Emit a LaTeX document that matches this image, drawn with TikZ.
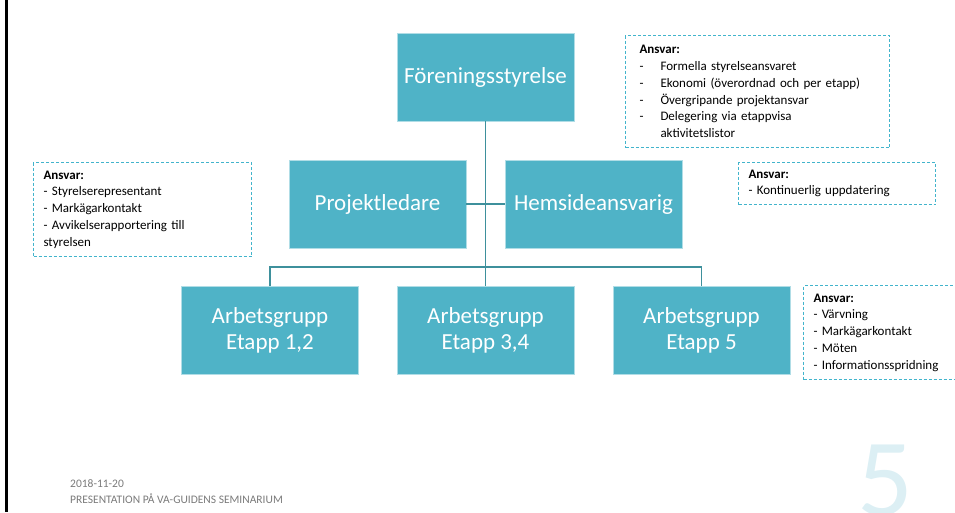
\documentclass[tikz,border=0pt]{standalone}
\usepackage{fontspec}
\setmainfont{Carlito}
\definecolor{boxfill}{HTML}{4FB3C7}
\definecolor{linecol}{HTML}{3E909C}
\definecolor{dashcol}{HTML}{42B4CC}
\definecolor{footgray}{HTML}{7A7A7A}
\definecolor{pagenum}{HTML}{DCEFF4}
\newcommand{\ansv}{\textbf{Ansvar:}}
\newcommand{\punkt}{\makebox[21pt][l]{-}}

\begin{document}
\begin{tikzpicture}[x=1pt, y=-1pt,
		orgbox/.style={draw=white!55!boxfill, line width=0.6pt, fill=boxfill, text=white,
			minimum width=177pt, minimum height=88pt, inner sep=2pt, align=center,
			font=\fontsize{23}{26}\selectfont},
		ansvarbox/.style={draw=dashcol, dash pattern=on 3pt off 2pt, line width=1pt,
			anchor=north west, align=left, inner xsep=10pt, inner ysep=0pt,
			font=\fontsize{13}{16.7}\selectfont},
		conn/.style={draw=linecol, line width=1.6pt}]

		% Frame
		\useasboundingbox (0,0) rectangle (955,512);
		\clip (0,0) rectangle (955,512);
		\fill[black] (5,0) rectangle (8,512);

		% Boxes
		\node[orgbox] (styrelse) at (485.5,77) {Föreningsstyrelse};
		\node[orgbox] (projektledare) at (377.5,204) {Projektledare};
		\node[orgbox] (hemsida) at (593.5,204) {Hemsideansvarig};
		\node[orgbox] (grupp12) at (270,330.5) {Arbetsgrupp\\Etapp 1,2};
		\node[orgbox] (grupp34) at (485.5,330.5) {Arbetsgrupp\\Etapp 3,4};
		\node[orgbox] (grupp5) at (701.5,330.5) {Arbetsgrupp\\Etapp 5};

		% Connectors
		\coordinate (bus) at (485.5,267);
		\draw[conn] (styrelse.south) -- (grupp34.north);
		\draw[conn] (projektledare.east) -- (hemsida.west);
		\draw[conn] (grupp12.north) |- (bus) -| (grupp5.north);

		% Responsibilities
		\node[ansvarbox, inner xsep=14pt, text width=236pt, minimum height=112pt] (ansvarstyrelse) at (625,35)
			{\ansv\\ \punkt Formella styrelseansvaret\\ \punkt Ekonomi (överordnad och per etapp)\\
			\punkt Övergripande projektansvar\\ \punkt Delegering via etappvisa\\ \hspace*{21pt}aktivitetslistor};
		\node[ansvarbox, text width=198pt, minimum height=94pt] (ansvarprojekt) at (33,162)
			{\ansv\\ - Styrelserepresentant\\ - Markägarkontakt\\ - Avvikelserapportering till\\ styrelsen};
		\node[ansvarbox, text width=177pt, minimum height=42pt] (ansvarhemsida) at (738,162)
			{\ansv\\ - Kontinuerlig uppdatering};
		\node[ansvarbox, text width=140pt, minimum height=94pt] (ansvargrupp5) at (803,285)
			{\ansv\\ - Värvning\\ - Markägarkontakt\\ - Möten\\ - Informationsspridning};

		% Footer
		\node[anchor=base west, inner sep=0pt, text=footgray, font=\fontsize{11.5}{14}\selectfont] (datum) at (70,487) {2018-11-20};
		\node[anchor=base west, inner sep=0pt, text=footgray, font=\fontsize{11.5}{14}\selectfont] (titel) at (70,503.3) {PRESENTATION PÅ VA-GUIDENS SEMINARIUM};
		\node[anchor=north, inner sep=0pt, text=pagenum, font=\fontsize{110}{110}\selectfont] (sidnr) at (885,445) {5};
	\end{tikzpicture}
\end{document}
